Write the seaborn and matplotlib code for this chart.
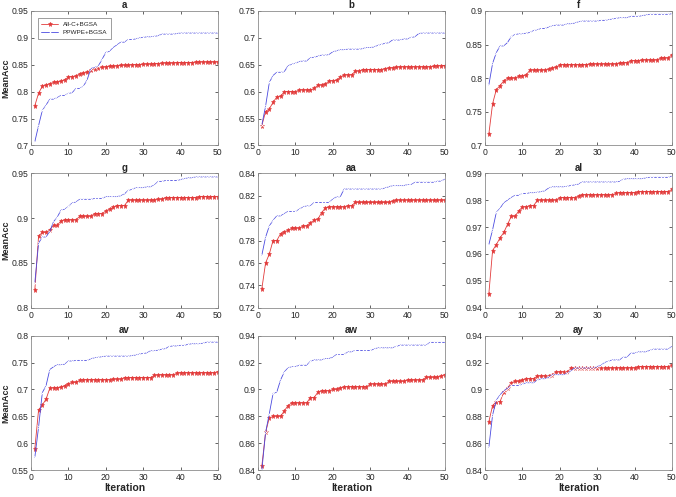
import numpy as np
import pandas as pd
import seaborn as sns
import matplotlib
matplotlib.use("Agg")
import matplotlib.pyplot as plt

iterations = list(range(1, 51))
series_names = ["All-C+BGSA", "PPWPE+BGSA"]
titles = ["a", "b", "f", "g", "aa", "al", "av", "aw", "ay"]

a_red = [0.774, 0.797, 0.810, 0.812, 0.815, 0.817, 0.818, 0.819, 0.822, 0.827,
         0.828, 0.829, 0.833, 0.834, 0.836, 0.840, 0.843, 0.844, 0.845, 0.846,
         0.847, 0.847, 0.848, 0.849, 0.849, 0.849, 0.850, 0.850, 0.850, 0.851,
         0.851, 0.851, 0.852, 0.852, 0.853, 0.853, 0.853, 0.853, 0.854, 0.854,
         0.854, 0.854, 0.854, 0.855, 0.855, 0.855, 0.855, 0.855, 0.855, 0.855]
a_blue = [0.707, 0.737, 0.765, 0.775, 0.786, 0.786, 0.789, 0.793, 0.793, 0.797,
          0.798, 0.806, 0.806, 0.810, 0.822, 0.843, 0.845, 0.848, 0.860, 0.873,
          0.875, 0.882, 0.887, 0.892, 0.892, 0.897, 0.897, 0.898, 0.900, 0.901,
          0.902, 0.902, 0.903, 0.904, 0.907, 0.907, 0.907, 0.907, 0.908, 0.909,
          0.909, 0.909, 0.909, 0.909, 0.909, 0.909, 0.909, 0.909, 0.909, 0.909]

b_red = [0.537, 0.563, 0.568, 0.580, 0.590, 0.591, 0.600, 0.600, 0.600, 0.600,
         0.603, 0.603, 0.603, 0.603, 0.606, 0.612, 0.612, 0.614, 0.620, 0.620,
         0.621, 0.627, 0.631, 0.631, 0.631, 0.638, 0.638, 0.641, 0.641, 0.641,
         0.641, 0.641, 0.641, 0.643, 0.644, 0.644, 0.645, 0.646, 0.646, 0.646,
         0.646, 0.646, 0.646, 0.646, 0.646, 0.646, 0.647, 0.648, 0.648, 0.648]
b_blue = [0.538, 0.573, 0.617, 0.630, 0.636, 0.636, 0.637, 0.648, 0.651, 0.653,
          0.656, 0.657, 0.657, 0.663, 0.664, 0.666, 0.668, 0.668, 0.669, 0.674,
          0.676, 0.678, 0.678, 0.679, 0.679, 0.679, 0.679, 0.680, 0.682, 0.682,
          0.683, 0.686, 0.688, 0.690, 0.691, 0.696, 0.696, 0.696, 0.698, 0.698,
          0.701, 0.702, 0.708, 0.709, 0.709, 0.709, 0.709, 0.709, 0.709, 0.709]

f_red = [0.717, 0.762, 0.783, 0.789, 0.796, 0.800, 0.800, 0.800, 0.803, 0.803,
         0.805, 0.812, 0.812, 0.812, 0.812, 0.812, 0.813, 0.815, 0.816, 0.820,
         0.820, 0.820, 0.820, 0.820, 0.820, 0.820, 0.820, 0.821, 0.821, 0.821,
         0.821, 0.821, 0.821, 0.821, 0.821, 0.822, 0.823, 0.823, 0.826, 0.826,
         0.826, 0.827, 0.827, 0.827, 0.827, 0.827, 0.830, 0.830, 0.830, 0.835]
f_blue = [0.790, 0.822, 0.838, 0.848, 0.848, 0.853, 0.862, 0.865, 0.866, 0.866,
          0.867, 0.868, 0.871, 0.872, 0.874, 0.874, 0.876, 0.878, 0.879, 0.879,
          0.879, 0.881, 0.881, 0.882, 0.884, 0.885, 0.885, 0.885, 0.885, 0.885,
          0.886, 0.886, 0.887, 0.888, 0.889, 0.890, 0.890, 0.890, 0.892, 0.892,
          0.892, 0.893, 0.894, 0.895, 0.895, 0.895, 0.895, 0.895, 0.895, 0.896]

g_red = [0.820, 0.880, 0.884, 0.884, 0.887, 0.892, 0.892, 0.897, 0.898, 0.898,
         0.898, 0.898, 0.902, 0.902, 0.902, 0.902, 0.905, 0.905, 0.905, 0.908,
         0.910, 0.912, 0.914, 0.914, 0.914, 0.920, 0.920, 0.920, 0.920, 0.920,
         0.920, 0.920, 0.920, 0.921, 0.921, 0.923, 0.923, 0.923, 0.923, 0.923,
         0.923, 0.923, 0.923, 0.923, 0.924, 0.924, 0.924, 0.924, 0.924, 0.924]
g_blue = [0.828, 0.872, 0.879, 0.879, 0.885, 0.896, 0.901, 0.909, 0.910, 0.913,
          0.917, 0.918, 0.921, 0.921, 0.921, 0.921, 0.922, 0.922, 0.922, 0.924,
          0.924, 0.924, 0.924, 0.925, 0.927, 0.931, 0.932, 0.934, 0.934, 0.934,
          0.935, 0.935, 0.937, 0.941, 0.941, 0.942, 0.942, 0.942, 0.942, 0.943,
          0.944, 0.945, 0.945, 0.946, 0.946, 0.946, 0.946, 0.946, 0.946, 0.946]

aa_red = [0.737, 0.760, 0.768, 0.780, 0.780, 0.786, 0.788, 0.789, 0.791, 0.791,
          0.791, 0.793, 0.793, 0.796, 0.798, 0.799, 0.805, 0.809, 0.810, 0.810,
          0.810, 0.810, 0.810, 0.811, 0.811, 0.814, 0.814, 0.814, 0.814, 0.814,
          0.814, 0.814, 0.814, 0.814, 0.814, 0.815, 0.816, 0.816, 0.816, 0.816,
          0.816, 0.816, 0.816, 0.816, 0.816, 0.816, 0.816, 0.816, 0.816, 0.816]
aa_blue = [0.767, 0.783, 0.793, 0.798, 0.802, 0.802, 0.804, 0.806, 0.806, 0.806,
           0.808, 0.810, 0.811, 0.811, 0.814, 0.814, 0.814, 0.814, 0.814, 0.817,
           0.819, 0.819, 0.826, 0.826, 0.826, 0.826, 0.826, 0.826, 0.826, 0.826,
           0.826, 0.826, 0.826, 0.827, 0.828, 0.829, 0.829, 0.829, 0.829, 0.830,
           0.830, 0.832, 0.832, 0.832, 0.832, 0.832, 0.832, 0.833, 0.833, 0.835]

al_red = [0.9452, 0.9613, 0.9635, 0.9660, 0.9680, 0.9710, 0.9740, 0.9740, 0.9760, 0.9775,
          0.9775, 0.9780, 0.9780, 0.9800, 0.9800, 0.9800, 0.9800, 0.9800, 0.9800, 0.9810,
          0.9810, 0.9810, 0.9810, 0.9810, 0.9815, 0.9820, 0.9820, 0.9820, 0.9820, 0.9820,
          0.9820, 0.9820, 0.9820, 0.9820, 0.9825, 0.9828, 0.9828, 0.9828, 0.9828, 0.9828,
          0.9832, 0.9832, 0.9832, 0.9832, 0.9832, 0.9832, 0.9832, 0.9832, 0.9832, 0.9840]
al_blue = [0.9635, 0.9690, 0.9755, 0.9770, 0.9790, 0.9800, 0.9810, 0.9818, 0.9818, 0.9825,
           0.9825, 0.9828, 0.9828, 0.9830, 0.9832, 0.9835, 0.9845, 0.9850, 0.9850, 0.9850,
           0.9850, 0.9852, 0.9855, 0.9857, 0.9860, 0.9868, 0.9868, 0.9868, 0.9868, 0.9868,
           0.9868, 0.9868, 0.9868, 0.9868, 0.9868, 0.9870, 0.9878, 0.9880, 0.9880, 0.9880,
           0.9880, 0.9880, 0.9883, 0.9885, 0.9885, 0.9885, 0.9885, 0.9885, 0.9885, 0.9890]

av_red = [0.590, 0.662, 0.671, 0.682, 0.702, 0.703, 0.703, 0.704, 0.707, 0.711,
          0.713, 0.713, 0.717, 0.718, 0.718, 0.718, 0.718, 0.718, 0.718, 0.718,
          0.718, 0.719, 0.719, 0.719, 0.722, 0.722, 0.722, 0.722, 0.722, 0.722,
          0.722, 0.722, 0.726, 0.727, 0.727, 0.727, 0.727, 0.727, 0.730, 0.731,
          0.731, 0.731, 0.731, 0.731, 0.731, 0.731, 0.731, 0.731, 0.731, 0.733]
av_blue = [0.574, 0.630, 0.694, 0.707, 0.737, 0.742, 0.746, 0.746, 0.747, 0.753,
           0.753, 0.754, 0.754, 0.754, 0.754, 0.757, 0.759, 0.760, 0.761, 0.762,
           0.762, 0.762, 0.762, 0.762, 0.762, 0.762, 0.763, 0.764, 0.766, 0.767,
           0.768, 0.772, 0.772, 0.773, 0.775, 0.776, 0.780, 0.781, 0.781, 0.782,
           0.782, 0.784, 0.785, 0.785, 0.785, 0.786, 0.788, 0.788, 0.788, 0.788]

aw_red = [0.843, 0.868, 0.879, 0.880, 0.880, 0.880, 0.884, 0.888, 0.890, 0.890,
          0.890, 0.890, 0.890, 0.894, 0.894, 0.898, 0.899, 0.899, 0.899, 0.900,
          0.900, 0.901, 0.902, 0.902, 0.902, 0.902, 0.902, 0.902, 0.902, 0.904,
          0.904, 0.904, 0.904, 0.904, 0.906, 0.906, 0.906, 0.906, 0.906, 0.907,
          0.907, 0.907, 0.907, 0.907, 0.909, 0.909, 0.909, 0.909, 0.910, 0.911]
aw_blue = [0.840, 0.868, 0.882, 0.897, 0.898, 0.907, 0.913, 0.916, 0.917, 0.917,
           0.918, 0.918, 0.918, 0.921, 0.922, 0.922, 0.922, 0.923, 0.923, 0.924,
           0.926, 0.926, 0.926, 0.928, 0.928, 0.929, 0.929, 0.929, 0.929, 0.929,
           0.930, 0.931, 0.931, 0.931, 0.931, 0.931, 0.932, 0.933, 0.933, 0.933,
           0.933, 0.933, 0.933, 0.933, 0.933, 0.935, 0.935, 0.935, 0.935, 0.935]

ay_red = [0.876, 0.888, 0.891, 0.891, 0.898, 0.901, 0.905, 0.906, 0.906, 0.907,
          0.908, 0.908, 0.908, 0.910, 0.910, 0.910, 0.910, 0.911, 0.913, 0.913,
          0.913, 0.913, 0.916, 0.916, 0.916, 0.916, 0.916, 0.916, 0.916, 0.916,
          0.916, 0.916, 0.916, 0.916, 0.916, 0.916, 0.916, 0.916, 0.916, 0.916,
          0.917, 0.917, 0.917, 0.917, 0.917, 0.917, 0.917, 0.917, 0.917, 0.918]
ay_blue = [0.857, 0.881, 0.892, 0.896, 0.899, 0.901, 0.903, 0.903, 0.903, 0.904,
           0.905, 0.905, 0.905, 0.907, 0.908, 0.908, 0.909, 0.911, 0.911, 0.911,
           0.911, 0.912, 0.914, 0.916, 0.916, 0.916, 0.916, 0.916, 0.916, 0.917,
           0.918, 0.920, 0.921, 0.922, 0.922, 0.922, 0.924, 0.924, 0.927, 0.927,
           0.928, 0.928, 0.928, 0.929, 0.930, 0.930, 0.930, 0.930, 0.930, 0.932]

red_series = [a_red, b_red, f_red, g_red, aa_red, al_red, av_red, aw_red, ay_red]
blue_series = [a_blue, b_blue, f_blue, g_blue, aa_blue, al_blue, av_blue, aw_blue, ay_blue]
ylims = [(0.7, 0.95), (0.5, 0.75), (0.7, 0.9), (0.8, 0.95), (0.72, 0.84),
         (0.94, 0.99), (0.55, 0.8), (0.84, 0.94), (0.84, 0.94)]
ysteps = [0.05, 0.05, 0.05, 0.05, 0.02, 0.01, 0.05, 0.02, 0.02]

sns.set_theme(style="white")
plt.rcParams['font.family'] = ['Liberation Sans', 'DejaVu Sans']

RED = "#e23b3b"
BLUE = "#4a4ae0"

fig, axes = plt.subplots(3, 3, figsize=(6.76, 4.97), dpi=100)
fig.subplots_adjust(left=0.046, right=0.994, top=0.978, bottom=0.054,
                    wspace=0.215, hspace=0.207)

for i, ax in enumerate(axes.flat):
    sns.lineplot(x=iterations, y=red_series[i], ax=ax, color=RED, marker="*",
                 markersize=3.6, linewidth=0.6, markeredgewidth=0.4,
                 markeredgecolor=RED, label=series_names[0])
    sns.lineplot(x=iterations, y=blue_series[i], ax=ax, color=BLUE, marker="x",
                 markersize=2.2, linewidth=0.6, markeredgewidth=0.5,
                 label=series_names[1])
    ax.set_xlim(0, 50)
    lo, hi = ylims[i]
    ax.set_ylim(lo, hi)
    ax.set_xticks([0, 10, 20, 30, 40, 50])
    ax.set_yticks(np.round(np.arange(lo, hi + 1e-9, ysteps[i]), 3))
    ax.yaxis.set_major_formatter(matplotlib.ticker.FuncFormatter(
        lambda v, p: ("%g" % round(v, 3))))
    ax.tick_params(direction="in", length=2, width=0.5, labelsize=6.2,
                   top=True, right=True, bottom=True, left=True, pad=2, colors="#262626")
    for s in ax.spines.values():
        s.set_color("#8c8c8c")
        s.set_linewidth(0.6)
    ax.set_title(titles[i], fontsize=7, fontweight="bold", pad=2)
    if i % 3 == 0:
        ax.set_ylabel("MeanAcc", fontsize=6.5, fontweight="bold")
        ax.yaxis.set_label_coords(-0.11, 0.5)
    else:
        ax.set_ylabel("")
    if i >= 6:
        ax.set_xlabel("Iteration", fontsize=7.5, fontweight="bold", labelpad=1)
    else:
        ax.set_xlabel("")
    if i == 0:
        leg = ax.legend(loc="upper left", fontsize=4.6, frameon=True, fancybox=False,
                        edgecolor="#555555", borderpad=0.5, handlelength=2.6,
                        labelspacing=0.5, bbox_to_anchor=(0.02, 0.97))
        leg.get_frame().set_linewidth(0.5)
    else:
        lg = ax.get_legend()
        if lg is not None:
            lg.remove()

fig.savefig("out.png", dpi=100)
